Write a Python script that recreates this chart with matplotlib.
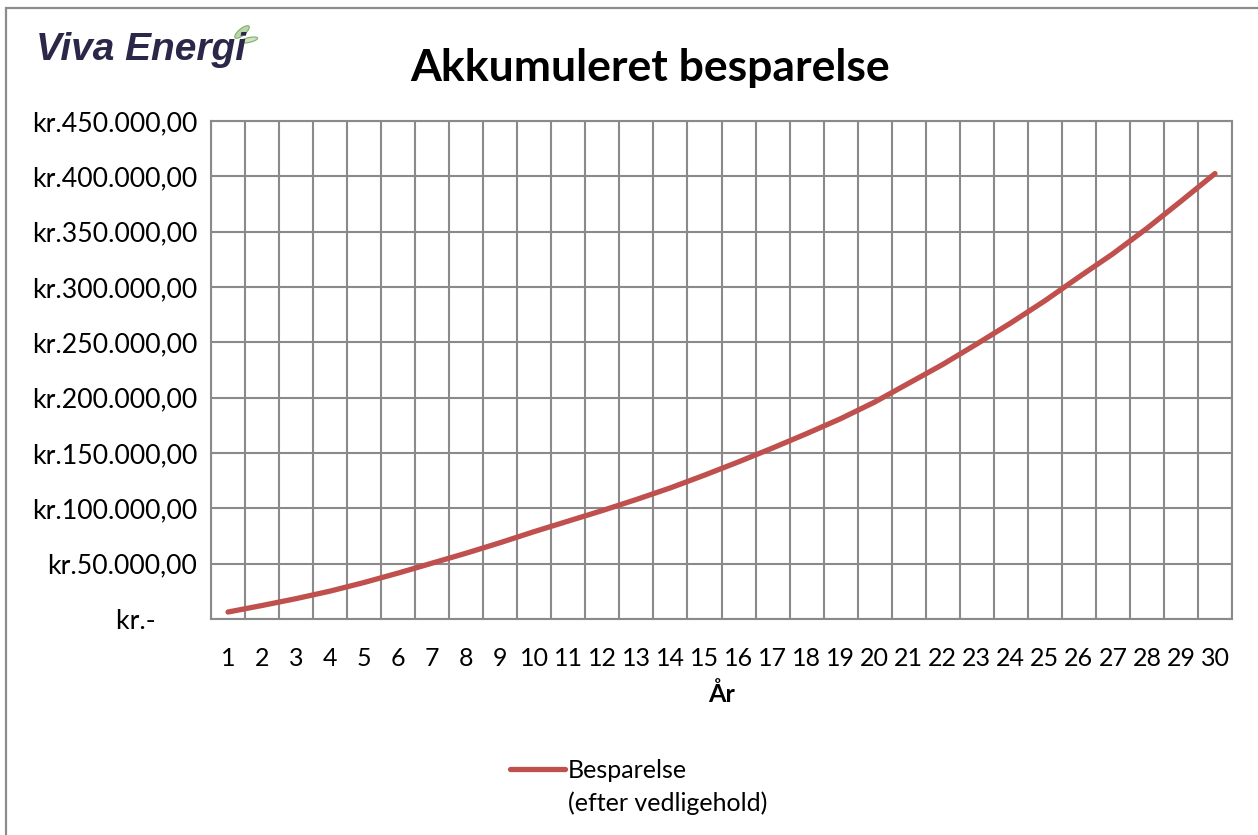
import matplotlib
matplotlib.use("Agg")
import matplotlib.pyplot as plt
from matplotlib.lines import Line2D
from matplotlib.patches import Rectangle, Ellipse
from matplotlib.ticker import FuncFormatter, MultipleLocator

plt.rcParams['font.family'] = ['Lato', 'DejaVu Sans']

# years and accumulated saving (kr.)
years = list(range(1, 31))
savings = [6300, 12200, 18400, 25200, 33000, 41500, 50500, 59500, 69000, 79000,
           88500, 98000, 108000, 118500, 130000, 142000, 154500, 167500, 181000, 196000,
           213000, 230000, 248500, 267500, 287500, 309000, 330000, 353000, 377500, 402500]

title = "Akkumuleret besparelse"
xlabel = "År"
series_label = "Besparelse"
series_label2 = "(efter vedligehold)"

W, H = 1258, 835
fig = plt.figure(figsize=(W / 100, H / 100), dpi=100)
fig.patch.set_facecolor("white")

# chart area border (only left/top edges are inside the image)
fig.patches.append(Rectangle((6 / W, -0.05), 1.2, 1 - 8 / H + 0.05, transform=fig.transFigure,
                             fill=False, edgecolor="#8c8c8c", linewidth=1.6))

ax = fig.add_axes([211 / W, 1 - 619 / H, (1232 - 211) / W, (619 - 121) / H])

grid_col = "#8a8a8a"
fs = 18
line, = ax.plot(years, savings, color="#C0504D", linewidth=3.8, solid_capstyle="round",
                solid_joinstyle="round", zorder=3)

ax.set_xlim(0.5, 30.5)
ax.set_ylim(0, 450000)
ax.yaxis.set_major_locator(MultipleLocator(50000))
ax.set_xticks(years)
ax.set_xticks([y + 0.5 for y in range(0, 31)], minor=True)


def kr(v, pos):
    if v == 0:
        return "kr.-      "
    return "kr." + f"{v:,.2f}".replace(",", "X").replace(".", ",").replace("X", ".")


ax.yaxis.set_major_formatter(FuncFormatter(kr))
ax.grid(True, which="minor", axis="x", color=grid_col, linewidth=1.5)
ax.grid(True, which="major", axis="y", color=grid_col, linewidth=1.5)
ax.set_axisbelow(True)
ax.tick_params(which="both", length=0)
ax.tick_params(axis="y", labelsize=19.2, pad=10)
ax.tick_params(axis="x", labelsize=fs, pad=20)
for s in ax.spines.values():
    s.set_color(grid_col)
    s.set_linewidth(1.5)

ax.set_xlabel(xlabel, fontsize=fs, fontweight="bold", labelpad=9)

fig.text(650 / W, 1 - 68 / H, title, fontsize=32, fontweight="bold", ha="center", va="center")

# logo text + leaf
fig.text(36 / W, 1 - 50 / H, "Viva Energi", fontsize=28, fontstyle="italic", fontweight="bold",
         color="#2b2748", ha="left", va="center", family=["Liberation Sans", "DejaVu Sans"])
fig.patches.append(Ellipse((242 / W, 1 - 32 / H), 8 / W, 15 / H, angle=-35,
                           transform=fig.transFigure, facecolor="#b9d7a8", edgecolor="#7fae6c", lw=0.8))
fig.patches.append(Ellipse((249 / W, 1 - 40 / H), 7 / W, 12 / H, angle=-70,
                           transform=fig.transFigure, facecolor="#cfe3c0", edgecolor="#7fae6c", lw=0.8))

blank = Line2D([], [], color="none")
fig.legend([line, blank], [series_label, series_label2], loc="upper left",
           bbox_to_anchor=(487 / W, 1 - 736 / H), frameon=False, fontsize=fs,
           handlelength=2.2, handletextpad=0.15, labelspacing=0.4)

fig.savefig("out.png", dpi=100, facecolor="white")
